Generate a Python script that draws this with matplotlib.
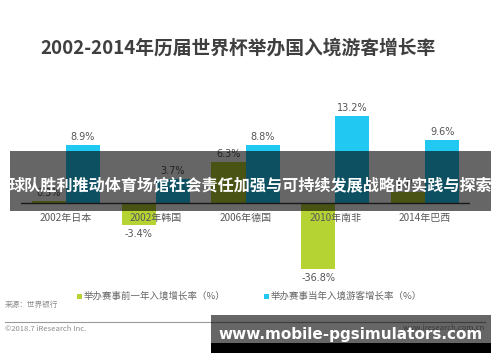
import matplotlib.pyplot as plt
from matplotlib.patches import Rectangle
import numpy as np

plt.rcParams['font.family'] = ['Noto Sans CJK SC', 'DejaVu Sans']

# ===== 数据 =====
countries = ["2002年日本", "2002年韩国", "2006年德国", "2010年南非", "2014年巴西"]
prev_year = [0.3, -3.4, 6.3, -36.8, 1.7]      # 举办赛事前一年入境增长率
host_year = [8.9, 3.7, 8.8, 13.2, 9.6]        # 举办赛事当年入境游客增长率
series_names = ["举办赛事前一年入境增长率（%）", "举办赛事当年入境游客增长率（%）"]
title = "2002-2014年历届世界杯举办国入境游客增长率"
banner = "球队胜利推动体育场馆社会责任加强与可持续发展战略的实践与探索"
watermark = "www.mobile-pgsimulators.com"

GREEN = "#b6d334"
CYAN = "#20c8f2"
W, H = 500, 362


def fx(x):
    return x / W


def fy(y):
    return 1 - y / H


fig = plt.figure(figsize=(5, 3.62), dpi=100)
fig.patch.set_facecolor("white")

# 坐标轴区域（像素 21..470, 100..269）
ax = fig.add_axes([fx(21), fy(269), fx(470) - fx(21), fy(100) - fy(269)])
ylo, yhi = -10.08, 15.7
ax.set_xlim(-0.5, 4.5)
ax.set_ylim(ylo, yhi)
ax.axis("off")

x = np.arange(len(countries))
bw = 0.38
ax.bar(x - bw / 2, prev_year, bw, color=GREEN, zorder=2)
ax.bar(x + bw / 2, host_year, bw, color=CYAN, zorder=2)
ax.axhline(0, color="#404040", lw=1, zorder=3)

def value_label(xpos, v):
    shown = max(v, ylo)
    if v >= 0:
        ax.annotate(f"{v}%", (xpos, shown), xytext=(0, 3), textcoords="offset pixels",
                    ha="center", va="bottom", fontsize=7, color="#555555",
                    family="DejaVu Sans", annotation_clip=False)
    else:
        ax.annotate(f"{v}%", (xpos, shown), xytext=(0, -4), textcoords="offset pixels",
                    ha="center", va="top", fontsize=7, color="#555555",
                    family="DejaVu Sans", annotation_clip=False)

for i in range(len(countries)):
    value_label(x[i] - bw / 2, prev_year[i])
    value_label(x[i] + bw / 2, host_year[i])
    ax.annotate(countries[i], (x[i], 0), xytext=(0, -15), textcoords="offset pixels",
                ha="center", va="center", fontsize=7.2, color="#595959",
                annotation_clip=False, zorder=4)

# 标题
fig.text(fx(238), fy(48), title, ha="center", va="center", fontsize=13.5,
         fontweight="bold", color="#3f3f3f")

# 图例
for (sx, tx), name, c in zip([(77, 84), (264, 271)], series_names, [GREEN, CYAN]):
    fig.add_artist(Rectangle((fx(sx), fy(299)), fx(5), 5 / H, transform=fig.transFigure,
                             facecolor=c, edgecolor="none"))
    fig.text(fx(tx), fy(296.5), name, ha="left", va="center", fontsize=6.8, color="#666666")

# 来源与版权
fig.text(fx(5), fy(305), "来源：世界银行", ha="left", va="center", fontsize=5.5, color="#8c8c8c")
fig.add_artist(plt.Line2D([fx(5), fx(485)], [fy(322), fy(322)], transform=fig.transFigure,
                          color="#9a9a9a", lw=0.8))
fig.text(fx(5), fy(329), "©2018.7 iResearch Inc.", ha="left", va="center", fontsize=5.5,
         color="#8c8c8c")
fig.text(fx(485), fy(328), "www.iresearch.com.cn", ha="right", va="center", fontsize=5.5,
         color="#8c8c8c")

# 横幅遮罩
fig.add_artist(Rectangle((fx(10), fy(211)), fx(481), 60 / H, transform=fig.transFigure,
                         facecolor="black", alpha=0.6, edgecolor="none", zorder=5))
fig.text(fx(250), fy(185), banner, ha="center", va="center", fontsize=11.6,
         fontweight="bold", color="white", zorder=6)

# 水印
fig.add_artist(Rectangle((fx(211), fy(343)), fx(280), 28 / H, transform=fig.transFigure,
                         facecolor="black", alpha=0.6, edgecolor="none", zorder=5))
fig.add_artist(Rectangle((fx(211), fy(353)), fx(280), 10 / H, transform=fig.transFigure,
                         facecolor="black", edgecolor="none", zorder=5))
fig.text(fx(351), fy(335), watermark, ha="center", va="center", fontsize=11,
         fontweight="bold", color="white", family="DejaVu Sans", zorder=6)

fig.savefig("out.png", dpi=100)
